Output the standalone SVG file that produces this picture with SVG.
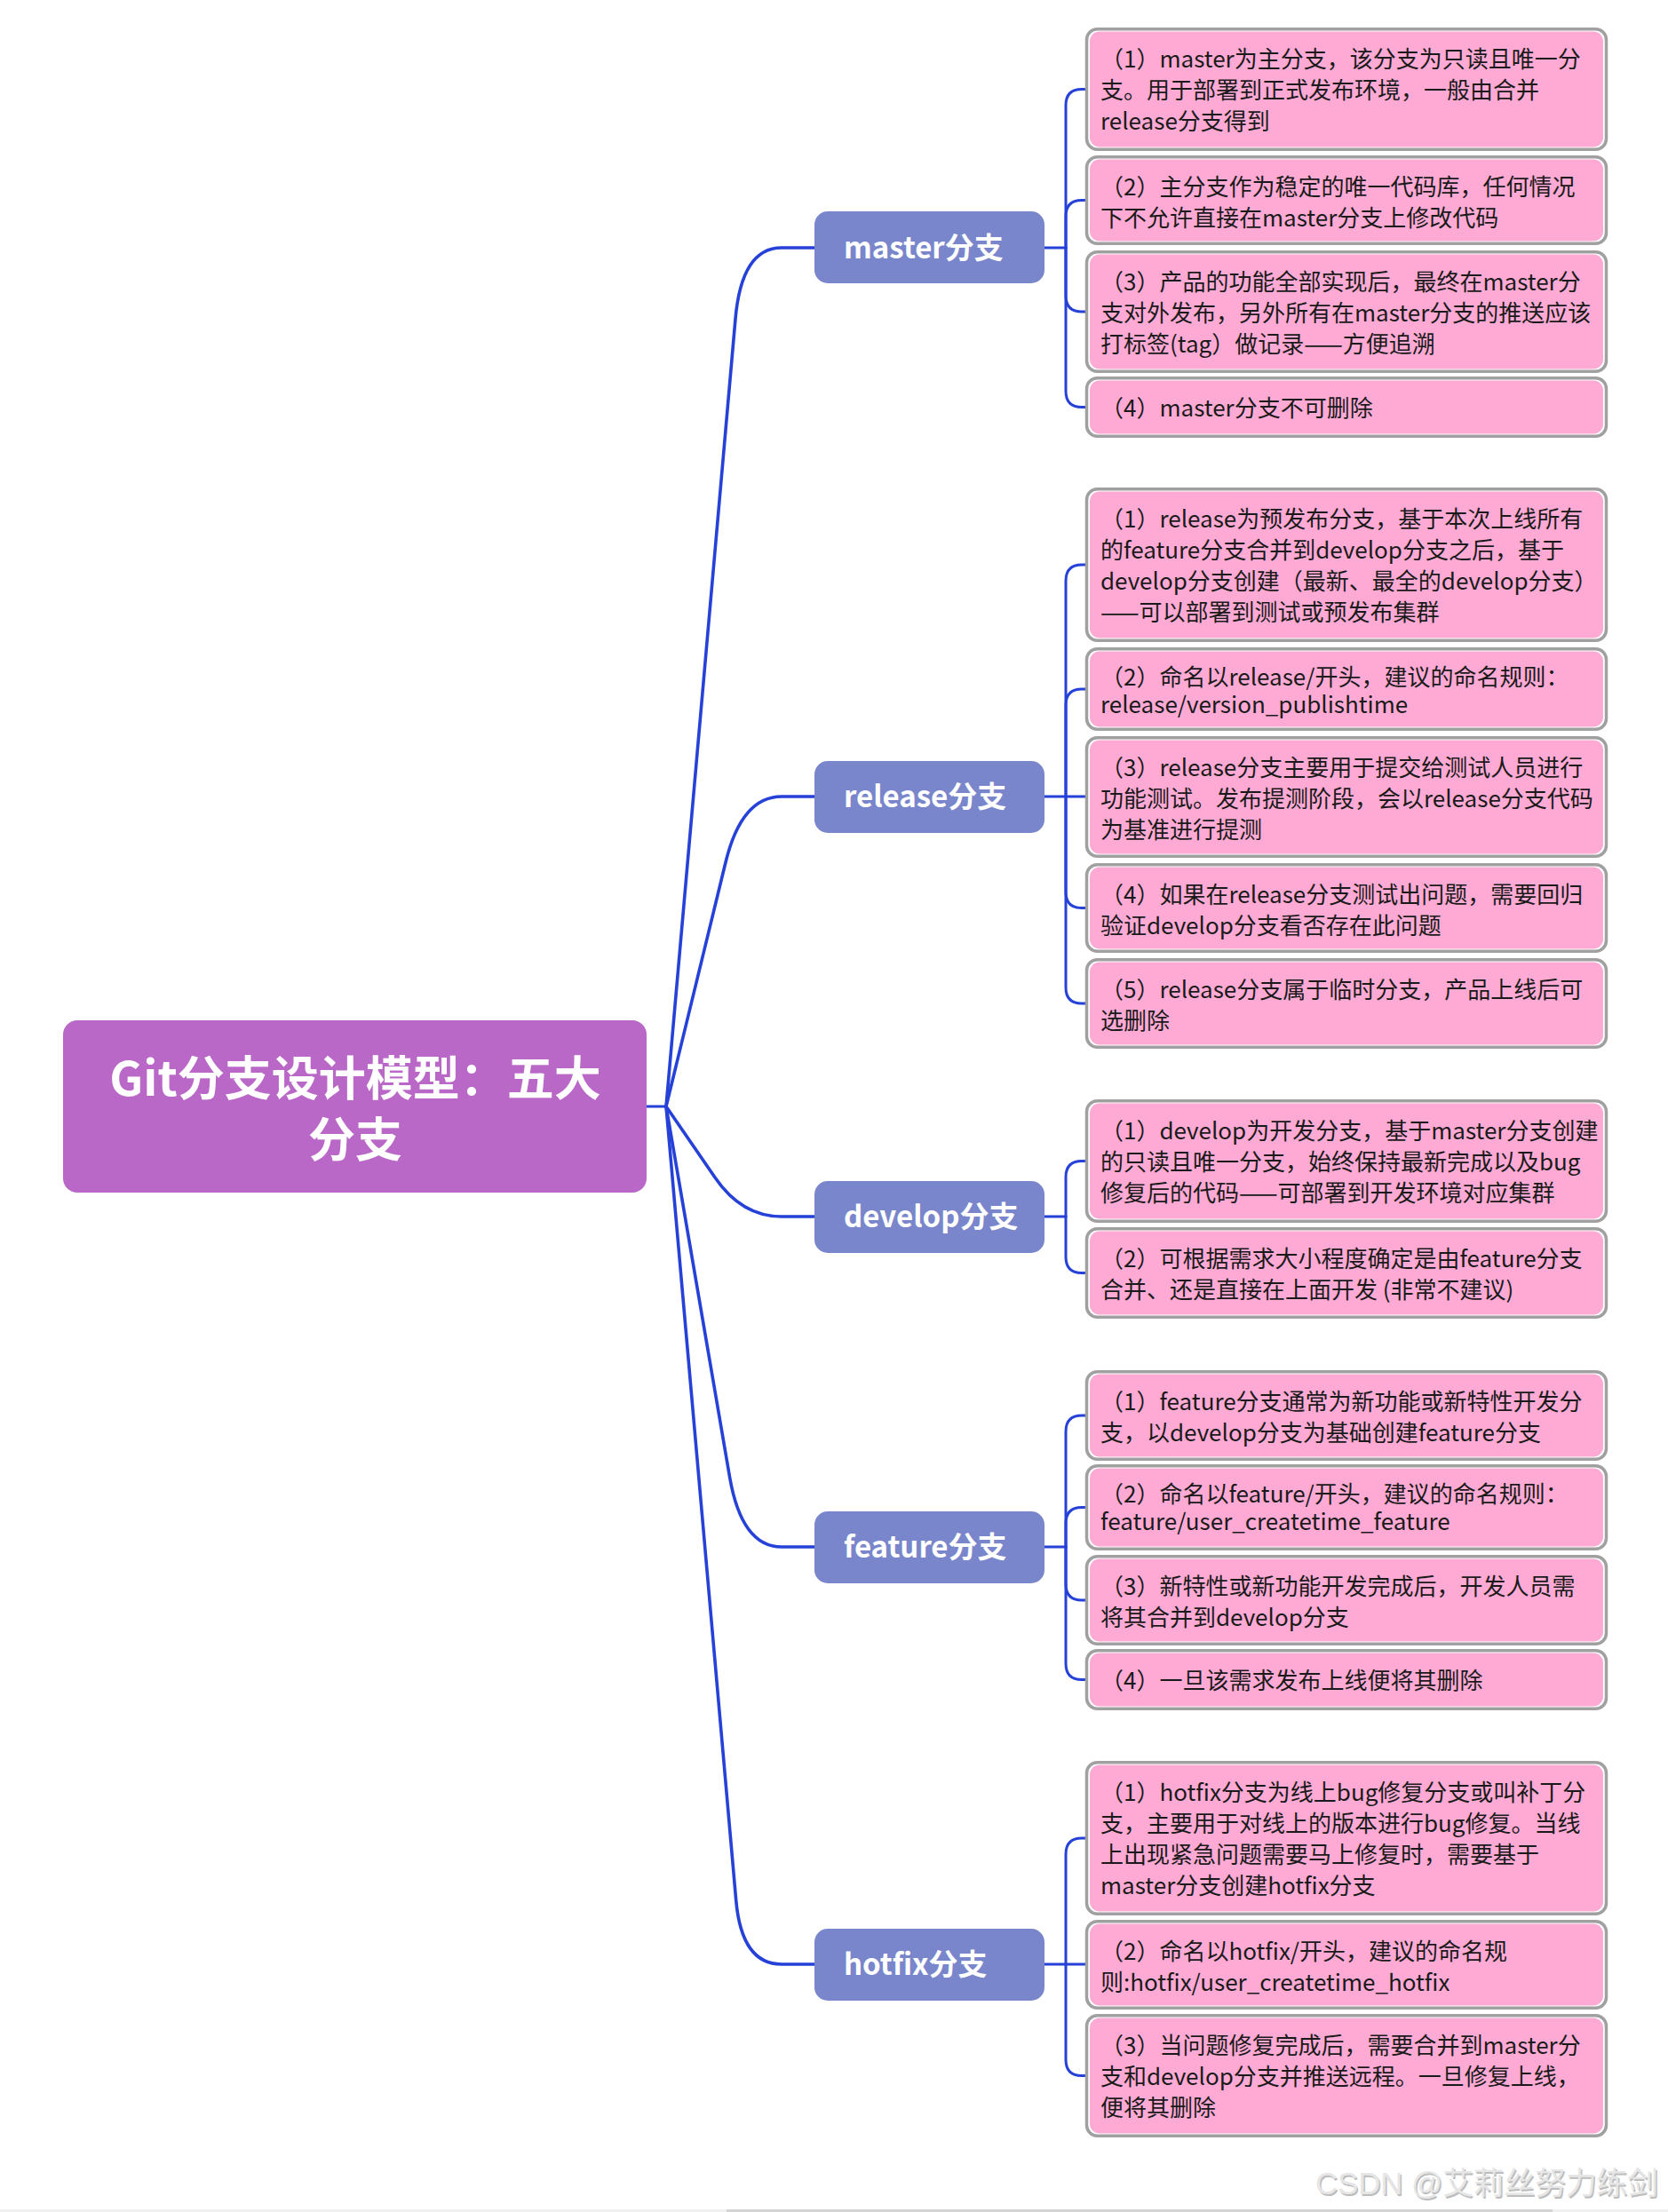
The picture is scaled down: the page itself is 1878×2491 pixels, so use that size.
<svg xmlns="http://www.w3.org/2000/svg" width="1878" height="2491" viewBox="0 0 1878 2491">
<style>
text{font-family:"Noto Sans CJK SC","Noto Sans",sans-serif}
.root{fill:#BA68C8}
.rt{font-size:53px;font-weight:bold;fill:#fff;text-anchor:middle}
.br{fill:#7986CB}
.bt{font-size:33px;font-weight:bold;fill:#fff}
.cb{fill:#fff;stroke:#A0A0A0;stroke-width:3.5}
.cp{fill:#FFAAD5}
.ct{font-size:26px;fill:#1a1a1a}
.ln{fill:none;stroke:#2541D8;stroke-width:3;stroke-linecap:round}
.mn{stroke-width:3.6}
.wm{font-family:"Liberation Sans","Noto Sans CJK SC",sans-serif;font-size:35px}
</style>
<rect width="1878" height="2491" fill="#fff"/>
<g id="connectors">
<path class="ln" d="M728 1246 H750"/>
<path class="ln mn" d="M750 1246 L828 359 Q835 279 880 279 H917"/>
<path class="ln mn" d="M750 1246 L817 971 Q835 897 880 897 H917"/>
<path class="ln mn" d="M750 1246 L805 1326 Q835 1370 880 1370 H917"/>
<path class="ln mn" d="M750 1246 L821.5 1663 Q835 1742 880 1742 H917"/>
<path class="ln mn" d="M750 1246 L828.7 2140 Q835 2212 880 2212 H917"/>
<path class="ln" d="M1176 279 H1200"/>
<path class="ln" d="M1200 279 V118.5 Q1200 100.5 1218 100.5 H1224"/>
<path class="ln" d="M1200 279 V243.5 Q1200 225.5 1218 225.5 H1224"/>
<path class="ln" d="M1200 279 V333 Q1200 351 1218 351 H1224"/>
<path class="ln" d="M1200 279 V440.5 Q1200 458.5 1218 458.5 H1224"/>
<path class="ln" d="M1176 897 H1200"/>
<path class="ln" d="M1200 897 V654 Q1200 636 1218 636 H1224"/>
<path class="ln" d="M1200 897 V794 Q1200 776 1218 776 H1224"/>
<path class="ln" d="M1200 897 H1224"/>
<path class="ln" d="M1200 897 V1004.5 Q1200 1022.5 1218 1022.5 H1224"/>
<path class="ln" d="M1200 897 V1112 Q1200 1130 1218 1130 H1224"/>
<path class="ln" d="M1176 1370 H1200"/>
<path class="ln" d="M1200 1370 V1325.5 Q1200 1307.5 1218 1307.5 H1224"/>
<path class="ln" d="M1200 1370 V1415.5 Q1200 1433.5 1218 1433.5 H1224"/>
<path class="ln" d="M1176 1742 H1200"/>
<path class="ln" d="M1200 1742 V1612 Q1200 1594 1218 1594 H1224"/>
<path class="ln" d="M1200 1742 V1715.5 Q1200 1697.5 1218 1697.5 H1224"/>
<path class="ln" d="M1200 1742 V1784 Q1200 1802 1218 1802 H1224"/>
<path class="ln" d="M1200 1742 V1873.5 Q1200 1891.5 1218 1891.5 H1224"/>
<path class="ln" d="M1176 2212 H1200"/>
<path class="ln" d="M1200 2212 V2088 Q1200 2070 1218 2070 H1224"/>
<path class="ln" d="M1200 2212 H1224"/>
<path class="ln" d="M1200 2212 V2319.5 Q1200 2337.5 1218 2337.5 H1224"/>
</g>
<g id="root">
<rect class="root" x="71" y="1149" width="657" height="194" rx="16"/>
<text class="rt" x="400" y="1234">Git分支设计模型：五大</text>
<text class="rt" x="400" y="1303">分支</text>
</g>
<g id="master">
<rect class="br" x="917" y="238" width="259" height="81" rx="15"/>
<text class="bt" x="950" y="291">master分支</text>
</g>
<g id="release">
<rect class="br" x="917" y="857" width="259" height="81" rx="15"/>
<text class="bt" x="950" y="909">release分支</text>
</g>
<g id="develop">
<rect class="br" x="917" y="1330" width="259" height="81" rx="15"/>
<text class="bt" x="950" y="1382">develop分支</text>
</g>
<g id="feature">
<rect class="br" x="917" y="1702" width="259" height="81" rx="15"/>
<text class="bt" x="950" y="1754">feature分支</text>
</g>
<g id="hotfix">
<rect class="br" x="917" y="2172" width="259" height="81" rx="15"/>
<text class="bt" x="950" y="2224">hotfix分支</text>
</g>

<g id="master-1">
<rect class="cb" x="1223.5" y="32.75" width="585" height="135.5" rx="12"/>
<rect class="cp" x="1227" y="35.5" width="578" height="130" rx="11"/>
<text class="ct" x="1239" y="76">（1）master为主分支，该分支为只读且唯一分</text>
<text class="ct" x="1239" y="111">支。用于部署到正式发布环境，一般由合并</text>
<text class="ct" x="1239" y="146">release分支得到</text>
</g>
<g id="master-2">
<rect class="cb" x="1223.5" y="176.75" width="585" height="97.5" rx="12"/>
<rect class="cp" x="1227" y="179.5" width="578" height="92" rx="11"/>
<text class="ct" x="1239" y="220">（2）主分支作为稳定的唯一代码库，任何情况</text>
<text class="ct" x="1239" y="255">下不允许直接在master分支上修改代码</text>
</g>
<g id="master-3">
<rect class="cb" x="1223.5" y="283.75" width="585" height="134.5" rx="12"/>
<rect class="cp" x="1227" y="286.5" width="578" height="129" rx="11"/>
<text class="ct" x="1239" y="327">（3）产品的功能全部实现后，最终在master分</text>
<text class="ct" x="1239" y="362">支对外发布，另外所有在master分支的推送应该</text>
<text class="ct" x="1239" y="397">打标签(tag）做记录——方便追溯</text>
</g>
<g id="master-4">
<rect class="cb" x="1223.5" y="425.75" width="585" height="65.5" rx="12"/>
<rect class="cp" x="1227" y="428.5" width="578" height="60" rx="11"/>
<text class="ct" x="1239" y="469">（4）master分支不可删除</text>
</g>

<g id="release-1">
<rect class="cb" x="1223.5" y="550.75" width="585" height="170.5" rx="12"/>
<rect class="cp" x="1227" y="553.5" width="578" height="165" rx="11"/>
<text class="ct" x="1239" y="594">（1）release为预发布分支，基于本次上线所有</text>
<text class="ct" x="1239" y="629">的feature分支合并到develop分支之后，基于</text>
<text class="ct" x="1239" y="664">develop分支创建（最新、最全的develop分支）</text>
<text class="ct" x="1239" y="699">——可以部署到测试或预发布集群</text>
</g>
<g id="release-2">
<rect class="cb" x="1223.5" y="730.75" width="585" height="90.5" rx="12"/>
<rect class="cp" x="1227" y="733.5" width="578" height="85" rx="11"/>
<text class="ct" x="1239" y="772">（2）命名以release/开头，建议的命名规则：</text>
<text class="ct" x="1239" y="803">release/version_publishtime</text>
</g>
<g id="release-3">
<rect class="cb" x="1223.5" y="830.75" width="585" height="133.5" rx="12"/>
<rect class="cp" x="1227" y="833.5" width="578" height="128" rx="11"/>
<text class="ct" x="1239" y="874">（3）release分支主要用于提交给测试人员进行</text>
<text class="ct" x="1239" y="909">功能测试。发布提测阶段，会以release分支代码</text>
<text class="ct" x="1239" y="944">为基准进行提测</text>
</g>
<g id="release-4">
<rect class="cb" x="1223.5" y="973.75" width="585" height="97.5" rx="12"/>
<rect class="cp" x="1227" y="976.5" width="578" height="92" rx="11"/>
<text class="ct" x="1239" y="1017">（4）如果在release分支测试出问题，需要回归</text>
<text class="ct" x="1239" y="1052">验证develop分支看否存在此问题</text>
</g>
<g id="release-5">
<rect class="cb" x="1223.5" y="1080.75" width="585" height="98.5" rx="12"/>
<rect class="cp" x="1227" y="1083.5" width="578" height="93" rx="11"/>
<text class="ct" x="1239" y="1124">（5）release分支属于临时分支，产品上线后可</text>
<text class="ct" x="1239" y="1159">选删除</text>
</g>

<g id="develop-1">
<rect class="cb" x="1223.5" y="1239.75" width="585" height="135.5" rx="12"/>
<rect class="cp" x="1227" y="1242.5" width="578" height="130" rx="11"/>
<text class="ct" x="1239" y="1283">（1）develop为开发分支，基于master分支创建</text>
<text class="ct" x="1239" y="1318">的只读且唯一分支，始终保持最新完成以及bug</text>
<text class="ct" x="1239" y="1353">修复后的代码——可部署到开发环境对应集群</text>
</g>
<g id="develop-2">
<rect class="cb" x="1223.5" y="1383.75" width="585" height="99.5" rx="12"/>
<rect class="cp" x="1227" y="1386.5" width="578" height="94" rx="11"/>
<text class="ct" x="1239" y="1427">（2）可根据需求大小程度确定是由feature分支</text>
<text class="ct" x="1239" y="1462">合并、还是直接在上面开发 (非常不建议)</text>
</g>

<g id="feature-1">
<rect class="cb" x="1223.5" y="1544.75" width="585" height="98.5" rx="12"/>
<rect class="cp" x="1227" y="1547.5" width="578" height="93" rx="11"/>
<text class="ct" x="1239" y="1588">（1）feature分支通常为新功能或新特性开发分</text>
<text class="ct" x="1239" y="1623">支，以develop分支为基础创建feature分支</text>
</g>
<g id="feature-2">
<rect class="cb" x="1223.5" y="1650.75" width="585" height="93.5" rx="12"/>
<rect class="cp" x="1227" y="1653.5" width="578" height="88" rx="11"/>
<text class="ct" x="1239" y="1692">（2）命名以feature/开头，建议的命名规则：</text>
<text class="ct" x="1239" y="1723">feature/user_createtime_feature</text>
</g>
<g id="feature-3">
<rect class="cb" x="1223.5" y="1752.75" width="585" height="98.5" rx="12"/>
<rect class="cp" x="1227" y="1755.5" width="578" height="93" rx="11"/>
<text class="ct" x="1239" y="1796">（3）新特性或新功能开发完成后，开发人员需</text>
<text class="ct" x="1239" y="1831">将其合并到develop分支</text>
</g>
<g id="feature-4">
<rect class="cb" x="1223.5" y="1858.75" width="585" height="65.5" rx="12"/>
<rect class="cp" x="1227" y="1861.5" width="578" height="60" rx="11"/>
<text class="ct" x="1239" y="1902">（4）一旦该需求发布上线便将其删除</text>
</g>

<g id="hotfix-1">
<rect class="cb" x="1223.5" y="1984.75" width="585" height="170.5" rx="12"/>
<rect class="cp" x="1227" y="1987.5" width="578" height="165" rx="11"/>
<text class="ct" x="1239" y="2028">（1）hotfix分支为线上bug修复分支或叫补丁分</text>
<text class="ct" x="1239" y="2063">支，主要用于对线上的版本进行bug修复。当线</text>
<text class="ct" x="1239" y="2098">上出现紧急问题需要马上修复时，需要基于</text>
<text class="ct" x="1239" y="2133">master分支创建hotfix分支</text>
</g>
<g id="hotfix-2">
<rect class="cb" x="1223.5" y="2163.75" width="585" height="97.5" rx="12"/>
<rect class="cp" x="1227" y="2166.5" width="578" height="92" rx="11"/>
<text class="ct" x="1239" y="2207">（2）命名以hotfix/开头，建议的命名规</text>
<text class="ct" x="1239" y="2242">则:hotfix/user_createtime_hotfix</text>
</g>
<g id="hotfix-3">
<rect class="cb" x="1223.5" y="2269.75" width="585" height="135.5" rx="12"/>
<rect class="cp" x="1227" y="2272.5" width="578" height="130" rx="11"/>
<text class="ct" x="1239" y="2313">（3）当问题修复完成后，需要合并到master分</text>
<text class="ct" x="1239" y="2348">支和develop分支并推送远程。一旦修复上线，</text>
<text class="ct" x="1239" y="2383">便将其删除</text>
</g>

<g id="watermark">
<text class="wm" x="1482.5" y="2472.5" fill="#bdbdbd" textLength="386" lengthAdjust="spacingAndGlyphs">CSDN @艾莉丝努力练剑</text>
<text class="wm" x="1481" y="2471" fill="#e6e6e6" textLength="386" lengthAdjust="spacingAndGlyphs">CSDN @艾莉丝努力练剑</text>
</g>
<rect x="0" y="2488" width="1878" height="3" fill="#f0f0f0"/>
<rect x="818" y="2488" width="930" height="3" fill="#d4d4d4"/>
</svg>
